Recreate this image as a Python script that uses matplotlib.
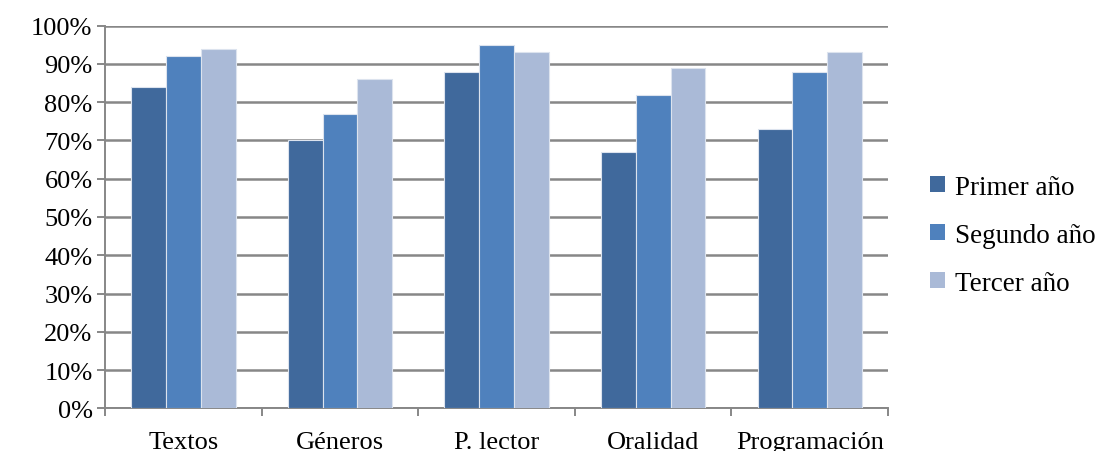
import matplotlib.pyplot as plt
import numpy as np
from matplotlib.patches import Patch

categories = ['Textos', 'Géneros', 'P. lector', 'Oralidad', 'Programación']
series = ['Primer año', 'Segundo año', 'Tercer año']
primer = [84, 70, 88, 67, 73]
segundo = [92, 77, 95, 82, 88]
tercer = [94, 86, 93, 89, 93]
colors = ['#40699C', '#4F81BD', '#AABAD7']

plt.rcParams['font.family'] = ['Liberation Serif', 'DejaVu Serif']

fig = plt.figure(figsize=(11.01, 4.52), dpi=100)
ax = fig.add_axes([0.0954, 0.0945, 0.7112, 0.8465])

x = np.arange(len(categories))
w = 1 / 4.5
for i, (vals, c) in enumerate(zip([primer, segundo, tercer], colors)):
    ax.bar(x + (i - 1) * w, vals, width=w, color=c, edgecolor='#DCE3EE',
           linewidth=0.8, zorder=3)

ax.set_xlim(-0.5, len(categories) - 0.5)
ax.set_ylim(0, 100)
ax.set_yticks(range(0, 101, 10))
ax.set_yticklabels([f'{v}%' for v in range(0, 101, 10)], fontsize=19)
ax.yaxis.grid(True, color='#878787', linewidth=1.8, zorder=0)

# boundary ticks on x, labels centred under each group
ax.set_xticks(np.arange(-0.5, len(categories), 1))
ax.set_xticklabels([])
ax.set_xticks(x, minor=True)
ax.set_xticklabels(categories, minor=True, fontsize=19)
ax.tick_params(axis='x', which='minor', length=0, pad=16)
ax.tick_params(axis='x', which='major', length=6, color='#878787', width=1.4)
ax.tick_params(axis='y', length=6, color='#878787', width=1.4, pad=3)

for s in ['top', 'right']:
    ax.spines[s].set_visible(False)
for s in ['left', 'bottom']:
    ax.spines[s].set_color('#878787')
    ax.spines[s].set_linewidth(1.4)

handles = [Patch(facecolor=c, edgecolor='none') for c in colors]
fig.legend(handles, series, loc='center left', bbox_to_anchor=(0.845, 0.477),
           frameon=False, fontsize=19.5, handlelength=0.55, handleheight=0.55,
           handletextpad=0.35, labelspacing=0.85, borderaxespad=0,
           borderpad=0)

fig.savefig('out.png', dpi=100)
